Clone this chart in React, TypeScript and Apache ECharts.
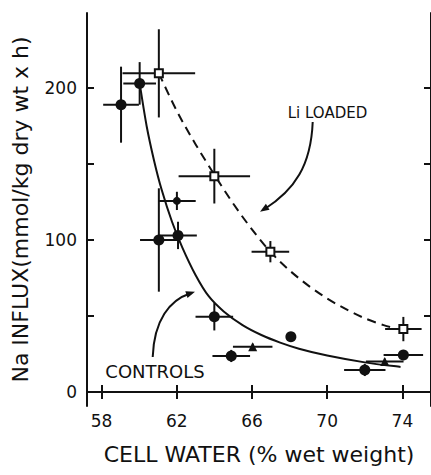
import React, { useEffect, useRef } from "react";
import * as echarts from "echarts";

const xTicks = [58, 62, 66, 70, 74];
const yTicks = [0, 50, 100, 150, 200];
const yLabels = [0, 100, 200];

// [x, y, xErr, yErr]
const controlsCircles = [
  [59.04, 189, 0.95, 25],
  [60.03, 203, 0.87, 14],
  [61.05, 100, 1.0, 34],
  [62.07, 103, 1.0, 9],
  [64.0, 49.5, 1.0, 9],
  [64.9, 23.7, 1.0, 4],
  [68.07, 36.4, 0, 0],
  [72.0, 14.5, 1.1, 4],
  [74.05, 24.3, 1.05, 0],
];
const controlsSmall = [[62.01, 125.7, 1.0, 6]];
const controlsTriangles = [
  [66.04, 29.8, 1.05, 2],
  [73.06, 20, 1.0, 2],
];
const liLoaded = [
  [61.05, 209.6, 1.93, 29],
  [64.0, 142, 1.9, 18],
  [66.98, 92.3, 1.0, 7],
  [74.05, 41.4, 0.97, 8],
];

// fitted curves
const controlsCurve = [
  [60.03, 203], [60.4, 175], [60.8, 152], [61.2, 133], [61.75, 112],
  [62.3, 95], [63.0, 77], [63.7, 63], [64.5, 53], [65.5, 44],
  [66.5, 37.5], [67.5, 32.5], [68.5, 28.5], [70.0, 24], [72.0, 19.5],
  [73.9, 16.5],
];
const liCurve = [
  [61.05, 209.6], [62.0, 185], [63.0, 163], [64.0, 143], [65.0, 124],
  [66.0, 107], [67.0, 92], [68.0, 80], [69.0, 70], [70.0, 61.5],
  [71.0, 54.5], [72.0, 48.5], [73.0, 44], [73.6, 42],
];

const INK = "#111";
const FONT = "DejaVu Sans";

function errorBars(data: number[][], z: number) {
  return {
    type: "custom",
    data,
    z,
    silent: true,
    encode: { x: 0, y: 1 },
    renderItem: (params: any, api: any) => {
      const x = api.value(0);
      const y = api.value(1);
      const xe = api.value(2);
      const ye = api.value(3);
      const l = api.coord([x - xe, y]);
      const r = api.coord([x + xe, y]);
      const t = api.coord([x, y + ye]);
      const b = api.coord([x, y - ye]);
      const style = { stroke: INK, lineWidth: 2 };
      return {
        type: "group",
        children: [
          { type: "line", shape: { x1: l[0], y1: l[1], x2: r[0], y2: r[1] }, style },
          { type: "line", shape: { x1: t[0], y1: t[1], x2: b[0], y2: b[1] }, style },
        ],
      };
    },
  };
}

// smooth curve (Catmull-Rom as cubic Beziers) through points mapped by the axes
function curveSeries(points: number[][], dash: number[] | null) {
  return {
    type: "custom",
    data: points,
    z: 2,
    silent: true,
    encode: { x: 0, y: 1 },
    renderItem: (params: any, api: any) => {
      if (params.dataIndex !== 0) return null;
      const p = points.map((pt) => api.coord(pt));
      const f = (v: number) => v.toFixed(2);
      let d = `M${f(p[0][0])},${f(p[0][1])}`;
      for (let i = 0; i < p.length - 1; i++) {
        const p0 = p[i - 1] || p[i];
        const p1 = p[i];
        const p2 = p[i + 1];
        const p3 = p[i + 2] || p[i + 1];
        const c1x = p1[0] + (p2[0] - p0[0]) / 6;
        const c1y = p1[1] + (p2[1] - p0[1]) / 6;
        const c2x = p2[0] - (p3[0] - p1[0]) / 6;
        const c2y = p2[1] - (p3[1] - p1[1]) / 6;
        d += ` C${f(c1x)},${f(c1y)} ${f(c2x)},${f(c2y)} ${f(p2[0])},${f(p2[1])}`;
      }
      return {
        type: "path",
        shape: { pathData: d },
        style: { stroke: INK, lineWidth: 2, fill: null, lineDash: dash || undefined },
      };
    },
  };
}

export default function App() {
  const ref = useRef<HTMLDivElement>(null);
  useEffect(() => {
    if (!ref.current) return;
    const chart = echarts.init(ref.current, undefined, { renderer: "svg" });
    const xMin = 57.23;
    const xMax = 75.52;
    const yMin = -9.2;
    const yMax = 249.3;
    const axisCommon = {
      type: "value",
      splitLine: { show: false },
      axisLine: { show: true, lineStyle: { color: INK, width: 2 } },
    };
    chart.setOption({
      animation: false,
      backgroundColor: "#fff",
      grid: { left: 87, top: 13, width: 348, height: 393 },
      xAxis: [
        {
          ...axisCommon,
          position: "bottom",
          min: xMin,
          max: xMax,
          axisTick: { inside: true, length: 7, customValues: xTicks, lineStyle: { color: INK, width: 2 } },
          axisLabel: { customValues: xTicks, fontSize: 17, color: INK, fontFamily: FONT, margin: 6 },
          name: "CELL WATER (% wet weight)",
          nameLocation: "middle",
          nameGap: 37,
          nameTextStyle: { fontSize: 22, color: INK, fontFamily: FONT },
        },
        {
          ...axisCommon,
          position: "top",
          min: xMin,
          max: xMax,
          axisTick: { inside: true, length: 7, customValues: xTicks, lineStyle: { color: INK, width: 2 } },
          axisLabel: { show: false },
        },
      ],
      yAxis: [
        {
          ...axisCommon,
          position: "left",
          min: yMin,
          max: yMax,
          axisTick: { inside: true, length: 7, customValues: yTicks, lineStyle: { color: INK, width: 2 } },
          axisLabel: { customValues: yLabels, fontSize: 17, color: INK, fontFamily: FONT, margin: 10 },
          name: "Na INFLUX(mmol/kg dry wt x h)",
          nameLocation: "middle",
          nameGap: 56,
          nameTextStyle: { fontSize: 22, color: INK, fontFamily: FONT },
        },
        {
          ...axisCommon,
          position: "right",
          min: yMin,
          max: yMax,
          axisTick: { inside: true, length: 7, customValues: yTicks, lineStyle: { color: INK, width: 2 } },
          axisLabel: { show: false },
        },
      ],
      series: [
        curveSeries(controlsCurve, null),
        curveSeries(liCurve, [9, 6]),
        errorBars(controlsCircles, 3),
        errorBars(controlsSmall, 3),
        errorBars(controlsTriangles, 3),
        errorBars(liLoaded, 3),
        {
          type: "scatter",
          data: controlsCircles.map((d) => [d[0], d[1]]),
          symbol: "circle",
          symbolSize: 11,
          z: 5,
          itemStyle: { color: INK, opacity: 1 },
        },
        {
          type: "scatter",
          data: controlsSmall.map((d) => [d[0], d[1]]),
          symbol: "circle",
          symbolSize: 8,
          z: 5,
          itemStyle: { color: INK, opacity: 1 },
        },
        {
          type: "scatter",
          data: controlsTriangles.map((d) => [d[0], d[1]]),
          symbol: "triangle",
          symbolSize: 9,
          z: 5,
          itemStyle: { color: INK, opacity: 1 },
        },
        {
          type: "scatter",
          data: liLoaded.map((d) => [d[0], d[1]]),
          symbol: "rect",
          symbolSize: 8,
          z: 5,
          itemStyle: { color: "#fff", borderColor: INK, borderWidth: 2, opacity: 1 },
        },
      ],
      graphic: [
        {
          type: "text",
          x: 327.5,
          y: 113,
          style: { text: "Li LOADED", fontSize: 15, fontFamily: FONT, fill: INK, align: "center", verticalAlign: "middle" },
        },
        {
          type: "bezierCurve",
          shape: { x1: 312.7, y1: 122, cpx1: 311, cpy1: 165, cpx2: 295, cpy2: 190, x2: 264, y2: 209.5 },
          style: { stroke: INK, lineWidth: 2, fill: null },
        },
        {
          type: "polygon",
          shape: { points: [[260, 211.7], [269.5, 209.8], [265.9, 203.8]] },
          style: { fill: INK },
        },
        {
          type: "text",
          x: 155,
          y: 371,
          style: { text: "CONTROLS", fontSize: 18, fontFamily: FONT, fill: INK, align: "center", verticalAlign: "middle" },
        },
        {
          type: "bezierCurve",
          shape: { x1: 152.7, y1: 357, cpx1: 154, cpy1: 320, cpx2: 170, cpy2: 300, x2: 190, y2: 293.5 },
          style: { stroke: INK, lineWidth: 2, fill: null },
        },
        {
          type: "polygon",
          shape: { points: [[195, 291.7], [187.5, 297.9], [185.3, 291.2]] },
          style: { fill: INK },
        },
      ],
    });
    return () => chart.dispose();
  }, []);
  return (
    <div
      ref={ref}
      style={{ position: "fixed", left: 0, top: 0, width: 431, height: 475 }}
    />
  );
}
